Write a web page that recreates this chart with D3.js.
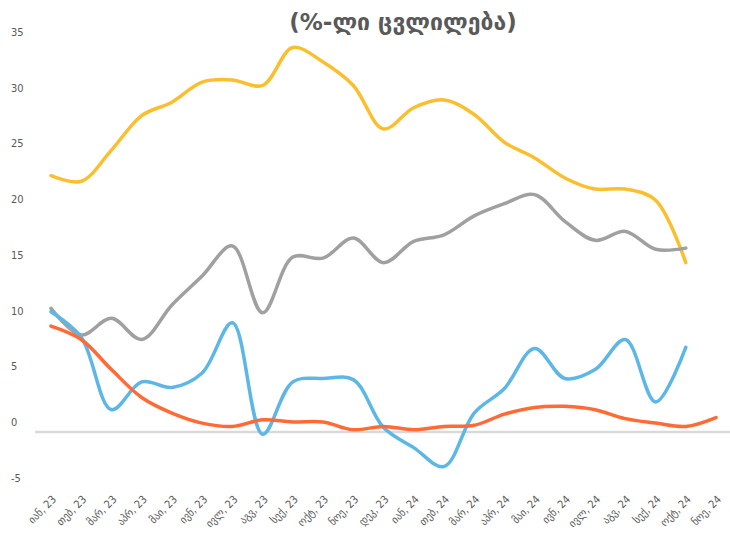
<!DOCTYPE html>
<html>
<head>
  <meta charset="UTF-8">
  <style>
    body { margin: 0; background: #fff; }
    text { fill: #595959; }
    .title { font: bold 23px "DejaVu Sans", sans-serif; }
    .ytick { font: 11px "DejaVu Sans Condensed", "DejaVu Sans", sans-serif; }
    .xtick { font: 11px "DejaVu Sans Condensed", "DejaVu Sans", sans-serif; }
  </style>
</head>
<body>
<svg></svg>
<script src="https://d3js.org/d3.v7.min.js"></script>
<script>

let width = 730, height = 544;

// months (Georgian abbreviations)
let months = ["იან, 23","თებ, 23","მარ, 23","აპრ, 23","მაი, 23","ივნ, 23","ივლ, 23","აგვ, 23","სექ, 23","ოქტ, 23","ნოე, 23","დეკ, 23",
              "იან, 24","თებ, 24","მარ, 24","აპრ, 24","მაი, 24","ივნ, 24","ივლ, 24","აგვ, 24","სექ, 24","ოქტ, 24","ნოე, 24"];

let yTicks = [-5, 0, 5, 10, 15, 20, 25, 30, 35];

// series values
let yellow = [23.0, 22.5, 25.3, 28.4, 29.6, 31.4, 31.6, 31.1, 34.5, 33.2, 31.1, 27.2, 29.1, 29.8, 28.5, 26.0, 24.6, 22.8, 21.8, 21.8, 20.8, 15.2];
let gray   = [11.1, 8.7, 10.2, 8.3, 11.4, 14.0, 16.7, 10.7, 15.7, 15.6, 17.4, 15.2, 17.1, 17.7, 19.4, 20.5, 21.3, 18.9, 17.2, 18.0, 16.4, 16.5];
let blue   = [10.8, 8.5, 2.0, 4.5, 4.0, 5.3, 9.8, -0.2, 4.5, 4.8, 4.7, 0.4, -1.4, -3.1, 1.7, 3.9, 7.5, 4.8, 5.6, 8.3, 2.7, 7.6];
let orange = [9.5, 8.3, 5.6, 3.1, 1.7, 0.8, 0.5, 1.1, 0.9, 0.9, 0.2, 0.5, 0.2, 0.5, 0.6, 1.6, 2.2, 2.3, 2.0, 1.2, 0.8, 0.5, 1.3];

let svg = d3.select("svg")
    .attr("width", width)
    .attr("height", height);

let x = d3.scalePoint().domain(months).range([51, 716]);
let y = d3.scaleLinear().domain([0, 35]).range([432, 42]);

svg.append("text")
    .attr("class", "title")
    .attr("x", 403)
    .attr("y", 30)
    .attr("text-anchor", "middle")
    .text("(%-ლი ცვლილება)");

// y labels (sit a little above their value, as in the original)
svg.append("g").selectAll("text")
    .data(yTicks)
    .enter().append("text")
    .attr("class", "ytick")
    .attr("x", 11)
    .attr("y", d => y(d) - 6)
    .text(d => d);

// zero line
svg.append("line")
    .attr("x1", 35).attr("x2", 730)
    .attr("y1", y(0)).attr("y2", y(0))
    .attr("stroke", "#d9d9d9")
    .attr("stroke-width", 2.5);

// x labels
svg.append("g").selectAll("text")
    .data(months)
    .enter().append("text")
    .attr("class", "xtick")
    .attr("text-anchor", "end")
    .attr("transform", d => "translate(" + (x(d) + 6) + ",500) rotate(-45)")
    .text(d => d);

let line = d3.line()
    .x((d, i) => x(months[i]))
    .y(d => y(d))
    .curve(d3.curveCatmullRom.alpha(0.5));

let series = [
    {vals: yellow, color: "#fbbf2e"},
    {vals: gray, color: "#a0a0a0"},
    {vals: blue, color: "#5db7e6"},
    {vals: orange, color: "#ff6a35"}
];

svg.append("g").selectAll("path")
    .data(series)
    .enter().append("path")
    .attr("d", d => line(d.vals))
    .attr("fill", "none")
    .attr("stroke", d => d.color)
    .attr("stroke-width", 3.5)
    .attr("stroke-linecap", "round");

</script>
</body>
</html>
